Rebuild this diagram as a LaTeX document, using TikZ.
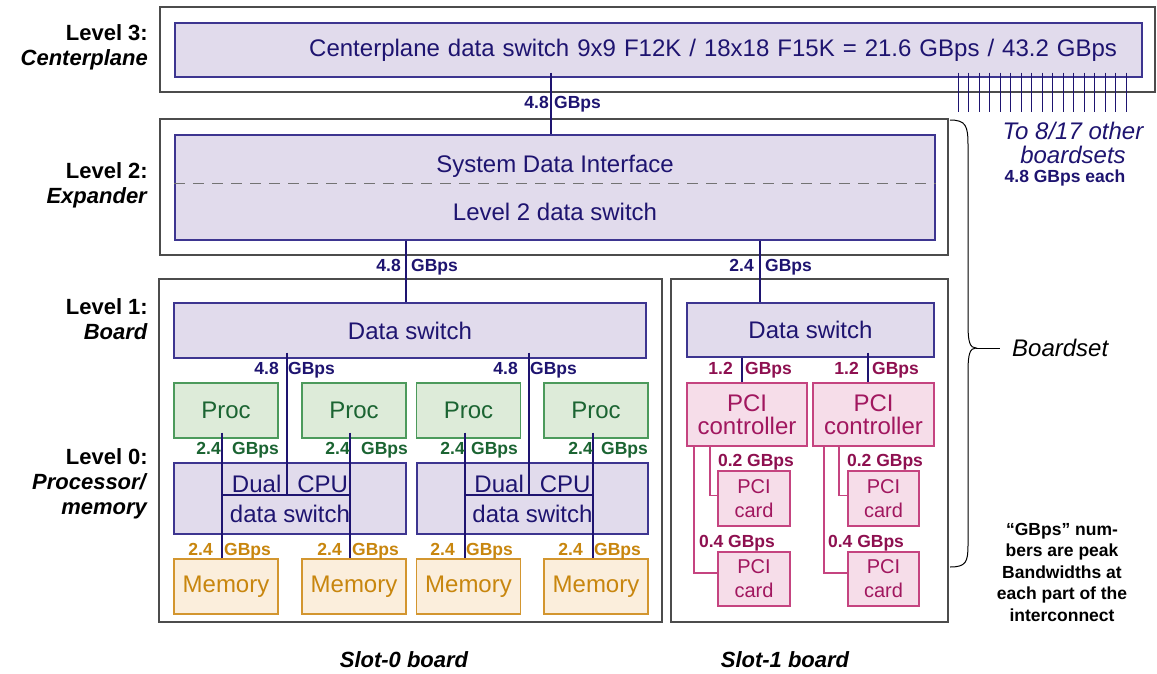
\documentclass[tikz,border=0pt]{standalone}
\usepackage{fontspec}
\setmainfont{Liberation Sans}
\usetikzlibrary{positioning}

\definecolor{navy}{HTML}{1E1470}
\definecolor{swfill}{HTML}{E1DBEC}
\definecolor{swline}{HTML}{3D3590}
\definecolor{prfill}{HTML}{DDEBD9}
\definecolor{prline}{HTML}{4C9A5C}
\definecolor{prtext}{HTML}{1B6432}
\definecolor{mefill}{HTML}{FBEEDC}
\definecolor{meline}{HTML}{D3962F}
\definecolor{metext}{HTML}{C8860E}
\definecolor{pcfill}{HTML}{F6DDE9}
\definecolor{pcline}{HTML}{C54480}
\definecolor{pctext}{HTML}{A1175F}
\definecolor{pclabel}{HTML}{8E1050}

% bandwidth label split round a bus line: style, name, x, y, number, gap
\newcommand\rate[6]{%
  \node[rate, #1, label={[rate, #1, anchor=west, xshift=#6pt]east:GBps}] (#2) at (#3,#4) {#5};}

\begin{document}
\begin{tikzpicture}[x=1pt, y=-1pt,
  frame/.style={draw=black!70, line width=1.5pt},
  swbox/.style={draw=swline, fill=swfill, line width=1.2pt, text=navy, inner sep=0pt,
    font=\fontsize{24}{28}\selectfont},
  prbox/.style={draw=prline, fill=prfill, line width=1.2pt, text=prtext,
    minimum width=104pt, minimum height=55pt, font=\fontsize{24}{28}\selectfont},
  mebox/.style={draw=meline, fill=mefill, line width=1.2pt, text=metext,
    minimum width=104pt, minimum height=55pt, font=\fontsize{24}{28}\selectfont},
  pcbox/.style={draw=pcline, fill=pcfill, line width=1.2pt, text=pctext, align=center, inner sep=0pt},
  bus/.style={draw=navy, line width=2.8pt},
  fan/.style={draw=navy, line width=1pt},
  pcilink/.style={draw=pcline, line width=1.1pt},
  dashline/.style={draw=black!55, line width=0.8pt, dash pattern=on 11pt off 8pt},
  rate/.style={font=\bfseries\fontsize{17.5}{18}\selectfont, inner sep=0pt, anchor=east,
    text height=12.5pt, text depth=3.5pt},
  level/.style={font=\bfseries\fontsize{22}{25}\selectfont, align=right, anchor=east, inner sep=0pt},
  slot/.style={font=\bfseries\itshape\fontsize{22}{24}\selectfont}
 ]
 \fill[white] (0,0) rectangle (1157,673);

 % levels
 \node[level] (lv3) at (148,47.5) {Level 3:\\\textit{Centerplane}};
 \node[level] (lv2) at (148,185) {Level 2:\\\textit{Expander}};
 \node[level] (lv1) at (148,319.5) {Level 1:\\\textit{Board}};
 \node[level] (lv0) at (148,484) {Level 0:\\\textit{Processor/}\\\textit{memory}};

 \draw[frame] (160,7) rectangle (1155,92);
 \draw[frame] (160,119) rectangle (948,255);
 \draw[frame] (159,279) rectangle (662,622);
 \draw[frame] (671,279) rectangle (948,622);

 % level 3 and 2
 \node[swbox, minimum height=54pt, text width=917pt, align=right, inner xsep=25pt] (cps) at (658.5,50)
  {Centerplane data switch 9x9 F12K / 18x18 F15K = 21.6 GBps / 43.2 GBps};
 \node[swbox, minimum width=760pt, minimum height=105pt, align=center,
  font=\fontsize{24}{48}\selectfont] (sdi) at (555,187.5) {System Data Interface\\Level 2 data switch};
 \draw[dashline] (sdi.west |- 0,183) -- (sdi.east |- 0,183);

 \foreach \i in {0,...,16} {
  \pgfmathsetmacro\fx{958+10.5*\i}
  \draw[fan] (\fx,0 |- cps.south) ++(0,-5) -- ++(0,39);
 }

 % slot-0 board
 \node[swbox, minimum width=472pt, minimum height=55pt] (ds0) at (410,330.5) {Data switch};
 \foreach \n/\x in {1/226, 2/354, 3/468.5, 4/596} {
  \node[prbox] (pr\n) at (\x,410.5) {Proc};
  \node[mebox] (me\n) at (\x,586.5) {Memory};
 }
 \node[swbox, minimum width=232pt, minimum height=71pt, align=center,
  font=\fontsize{24}{30}\selectfont] (dcs1) at (290,498.5) {Dual\hspace{16pt}CPU\\data switch};
 \node[swbox, minimum width=231pt, minimum height=71pt, align=center,
  font=\fontsize{24}{30}\selectfont] (dcs2) at (532.5,498.5) {Dual\hspace{16pt}CPU\\data switch};

 % slot-1 board
 \node[swbox, minimum width=247pt, minimum height=54pt] (ds1) at (810.5,330) {Data switch};
 \node[pcbox, minimum width=120pt, minimum height=63pt, font=\fontsize{24}{23}\selectfont] (pc1) at (747,414.5) {PCI\\controller};
 \node[pcbox, minimum width=121pt, minimum height=63pt, font=\fontsize{24}{23}\selectfont] (pc2) at (873.5,414.5) {PCI\\controller};
 \node[pcbox, minimum width=72pt, minimum height=55pt, font=\fontsize{20}{24}\selectfont] (ca1) at (754,498.5) {PCI\\card};
 \node[pcbox, minimum width=72pt, minimum height=54pt, font=\fontsize{20}{24}\selectfont] (cb1) at (754,579) {PCI\\card};
 \node[pcbox, minimum width=71pt, minimum height=55pt, font=\fontsize{20}{24}\selectfont] (ca2) at (883.5,498.5) {PCI\\card};
 \node[pcbox, minimum width=71pt, minimum height=54pt, font=\fontsize{20}{24}\selectfont] (cb2) at (883.5,579) {PCI\\card};

 % buses
 \draw[bus] (551,0 |- cps.south) ++(0,-5) -- (551,0 |- sdi.north);
 \draw[bus] (406,0 |- sdi.south) -- (406,0 |- ds0.north);
 \draw[bus] (760,0 |- sdi.south) -- (760,0 |- ds1.north);
 \coordinate (bar1) at (222,495);
 \coordinate (bar2) at (465,495);
 \draw[bus] (bar1) -- (350,495);
 \draw[bus] (bar2) -- (593,495);
 \draw[bus] (287,0 |- ds0.south) ++(0,-6) -- (287,0 |- bar1);
 \draw[bus] (529,0 |- ds0.south) ++(0,-6) -- (529,0 |- bar2);
 \foreach \n/\x in {1/222, 2/350, 3/465, 4/593}
  \draw[bus] (\x,0 |- pr\n.south) ++(0,-6) -- (\x,0 |- me\n.north);
 \draw[bus] (742,0 |- ds1.south) -- (742,0 |- pc1.north);
 \draw[bus] (868,0 |- ds1.south) ++(0,-5) -- (868,0 |- pc2.north);
 \draw[pcilink] (710,0 |- pc1.south) |- ([yshift=3pt]ca1.west);
 \draw[pcilink] (694,0 |- pc1.south) |- ([yshift=6pt]cb1.west);
 \draw[pcilink] (839,0 |- pc2.south) |- ([yshift=3pt]ca2.west);
 \draw[pcilink] (824,0 |- pc2.south) |- ([yshift=6pt]cb2.west);

 % bandwidths
 \rate{text=navy}{r3}{549}{104}{4.8}{5}
 \rate{text=navy}{r2a}{401}{267}{4.8}{10}
 \rate{text=navy}{r2b}{754}{267}{2.4}{11}
 \rate{text=navy}{r1a}{279}{370}{4.8}{9}
 \rate{text=navy}{r1b}{518}{370}{4.8}{12}
 \rate{text=pclabel}{r1c}{733}{370}{1.2}{12}
 \rate{text=pclabel}{r1d}{859}{370}{1.2}{13}
 \rate{text=prtext}{rp1}{221}{450}{2.4}{11}
 \rate{text=prtext}{rp2}{350}{450}{2.4}{11}
 \rate{text=prtext}{rp3}{465}{450}{2.4}{6}
 \rate{text=prtext}{rp4}{593}{450}{2.4}{8}
 \rate{text=metext}{rm1}{213}{551}{2.4}{11}
 \rate{text=metext}{rm2}{342}{551}{2.4}{10}
 \rate{text=metext}{rm3}{455}{551}{2.4}{11}
 \rate{text=metext}{rm4}{583}{551}{2.4}{11}
 \node[rate, text=pclabel, anchor=center] (q1) at (756,462) {0.2 GBps};
 \node[rate, text=pclabel, anchor=center] (q2) at (885,462) {0.2 GBps};
 \node[rate, text=pclabel, anchor=center] (q3) at (737,543) {0.4 GBps};
 \node[rate, text=pclabel, anchor=center] (q4) at (866,543) {0.4 GBps};

 % right side
 \node[font=\itshape\fontsize{24}{24}\selectfont, text=navy, align=center] (other) at (1073,143)
  {To 8/17 other\\boardsets};
 \node[rate, text=navy, anchor=center] (each) at (1065,178) {4.8 GBps each};
 \draw[line width=1pt] (950,120) .. controls (966,120) and (968,126) .. (968,145) -- (968,325)
  .. controls (968,342) and (970,348) .. (976,348) .. controls (970,348) and (968,354) .. (968,371)
  -- (968,545) .. controls (968,562) and (966,567) .. (950,567);
 \coordinate (tip) at (976,348);
 \node[right=36pt of tip, inner sep=0pt, font=\itshape\fontsize{24}{24}\selectfont] (bs) {Boardset};
 \draw[line width=1pt] (tip) -- ([xshift=-12pt]bs.west);
 \node[font=\bfseries\fontsize{17.5}{21.5}\selectfont, align=center] (note) at (1062,572)
  {“GBps” num-\\bers are peak\\Bandwidths at\\each part of the\\interconnect};

 \node[slot] (s0) at (404,660) {Slot-0 board};
 \node[slot] (s1) at (785,660) {Slot-1 board};
\end{tikzpicture}
\end{document}
